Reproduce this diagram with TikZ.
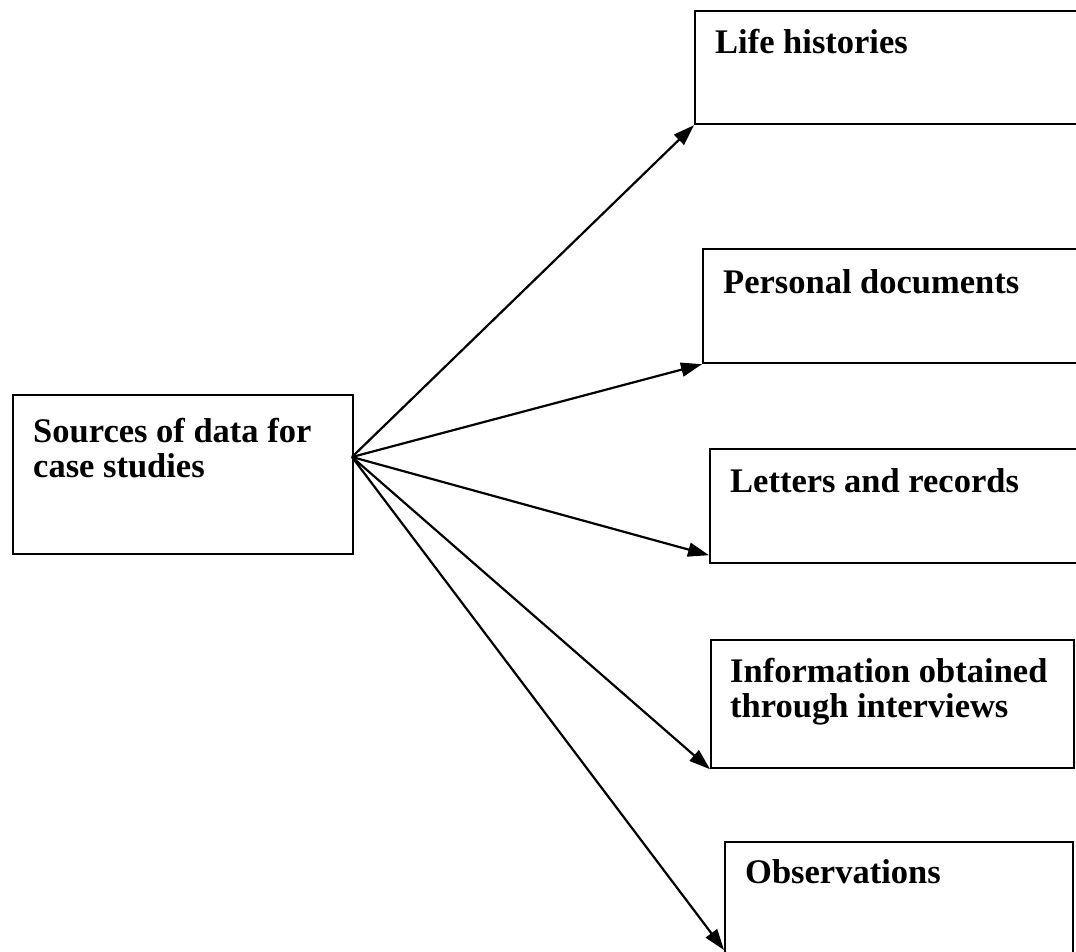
\documentclass[tikz,border=0pt]{standalone}
\usepackage{fontspec}
\setmainfont{Liberation Serif}
\usetikzlibrary{arrows.meta,calc}
\begin{document}
\begin{tikzpicture}[x=1pt,y=-1pt,
  srcbox/.style={draw,line width=2.2pt,inner sep=0pt,anchor=north west},
  lbl/.style={font=\fontsize{34.5}{35}\selectfont\bfseries,inner sep=0pt,align=left,anchor=base west},
  link/.style={line width=2.2pt,-{Triangle[length=21pt,width=14pt]}}]
\clip (0,0) rectangle (1076,951);
\useasboundingbox (0,0) rectangle (1076,951);

% boxes
\node[srcbox,minimum width=340pt,minimum height=159pt] (src) at (12,394) {};
\node[srcbox,minimum width=392pt,minimum height=113pt] (life) at (694,10) {};
\node[srcbox,minimum width=384pt,minimum height=114pt] (pers) at (702,248) {};
\node[srcbox,minimum width=377pt,minimum height=114pt] (lett) at (709,448) {};
\node[srcbox,minimum width=363pt,minimum height=128pt] (info) at (710,639) {};
\node[srcbox,minimum width=348pt,minimum height=130pt] (obs) at (724,841) {};

% labels (two-line labels are placed by the baseline of their last line)
\node[lbl] (srct) at (33,477) {Sources of data for\\case studies};
\node[lbl] (lifet) at (715,53) {Life histories};
\node[lbl] (perst) at (723,293) {Personal documents};
\node[lbl] (lettt) at (730,492) {Letters and records};
\node[lbl] (infot) at (730,717) {Information obtained\\through interviews};
\node[lbl] (obst) at (745,883) {Observations};

% connectors
\coordinate (hub) at (352,457);
\coordinate (obstip) at ($(obs.north west)+(0,109)$);
\draw[link] (hub) -- (life.south west);
\draw[link] (hub) -- (pers.south west);
\draw[link] (hub) -- ([yshift=9pt]lett.south west);
\draw[link] (hub) -- (info.south west);
\draw[link] (hub) -- (obstip);
\end{tikzpicture}
\end{document}
